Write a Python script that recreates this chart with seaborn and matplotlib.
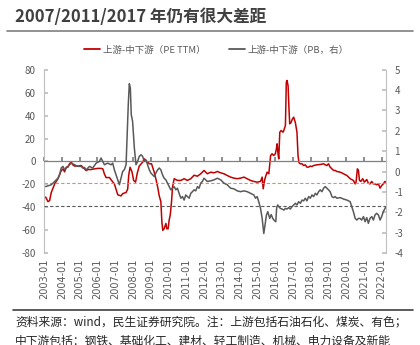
import numpy as np
import pandas as pd
import matplotlib
matplotlib.use("Agg")
import matplotlib.pyplot as plt
import seaborn as sns
from matplotlib.lines import Line2D

# ---------------- data ----------------
title = "2007/2011/2017 年仍有很大差距"
legend_labels = ["上游-中下游（PE TTM）", "上游-中下游（PB，右）"]
source_lines = ["资料来源：wind，民生证券研究院。注：上游包括石油石化、煤炭、有色；",
                "中下游包括：钢铁、基础化工、建材、轻工制造、机械、电力设备及新能"]
tick_years = list(range(2003, 2023))
tick_labels = [f"{y}-01" for y in tick_years]

# months since 2003-01 and values (left axis, PE TTM difference)
pe_month = [1.1, 2.7, 3.8, 4.9, 7.2, 9.4, 11.6, 12.8, 13.9, 15.0, 16.1, 17.2, 18.4, 19.5, 20.6, 22.9,
            25.1, 26.2, 27.3, 28.5, 29.6, 31.8, 34.1, 36.3, 38.5, 39.7, 40.8, 41.9, 44.2, 45.3, 47.5,
            48.6, 49.8, 52.0, 53.1, 55.4, 56.5, 57.2, 58.1, 59.4, 60.5, 61.8, 63.0, 64.3, 66.6, 67.7,
            68.8, 71.1, 72.6, 74.4, 75.5, 76.7, 77.8, 78.9, 79.6, 80.2, 81.1, 82.3, 82.9, 83.8, 84.5,
            85.2, 86.1, 86.8, 87.9, 89.0, 90.1, 92.4, 94.6, 96.8, 99.1, 101.3, 103.6, 105.8, 108.0,
            109.2, 110.3, 112.5, 114.8, 117.0, 119.3, 121.5, 123.7, 126.0, 128.2, 130.5, 132.7, 135.0,
            137.2, 139.4, 141.7, 143.9, 146.2, 147.3, 148.0, 148.9, 149.5, 150.6, 151.8, 153.0, 154.0,
            155.1, 156.2, 156.9, 157.4, 158.0, 158.5, 159.2, 160.1, 161.4, 161.9, 163.0, 163.6, 164.1,
            164.8, 165.4, 165.9, 166.8, 167.7, 168.6, 169.7, 170.8, 171.5, 172.2, 173.1, 174.2, 175.3,
            176.4, 177.5, 178.7, 179.8, 180.9, 182.0, 184.3, 186.5, 188.8, 189.9, 191.0, 192.1, 193.2,
            194.4, 195.5, 196.6, 197.7, 200.0, 201.1, 202.2, 204.5, 206.7, 208.9, 210.1, 210.7, 211.6,
            212.3, 213.0, 213.9, 215.2, 216.3, 217.9, 219.0, 220.1, 221.3, 222.4, 223.5, 224.6, 225.8,
            226.9, 228.0, 229.1, 230.2, 230.9]
pe_vals = [-31, -35, -34, -27, -19.5, -15, -8, -6.5, -9, -5, -5, -2, -0.6, -3, -4, -4,
           -3.5, -5, -6.4, -8, -7, -7, -6.4, -6, -6, -6.4, -11, -14, -14, -16, -19.5,
           -24, -29, -30, -28, -27, -24, -12, -5, -9, -16.5, -18, -10, -4, -0.6, 2.3,
           0.9, -2, -2, -9.3, -15, -22, -30, -35, -53, -60, -58.6, -54, -58.6, -58.6, -51,
           -47, -35, -22, -15, -15.7, -16.5, -16.5, -15, -16.5, -15, -12, -12.8, -10.7, -7.8,
           -9.3, -10.7, -9.3, -9.9, -8.7, -9.9, -10.7, -12.2, -13.6, -14.5, -15, -14.5, -13.6,
           -15, -16.5, -17.4, -18, -17.4, -13.6, -23.8, -16.5, -13.6, -9.3, -10.7, 5.2, 6.7,
           5.2, 6.7, 11, 15.4, 6.7, 2.3, 25.5, 27, 25.5, 27, 31.4, 69, 70.6,
           66, 46, 32.8, 34, 37, 38.6, 34, 25.5, 5.2, -1.2, -2, -2, -3.5,
           -2.9, -4.9, -4.9, -4, -4.4, -3.5, -2.9, -2.6, -2, -2.9, -3.5, -2, -4.9,
           -6.4, -7.8, -7.8, -8.7, -9.3, -9.9, -10.7, -12.2, -15, -16.5, -19.5, -18, -6.4,
           -7.8, -16.5, -17.4, -15, -18, -15.7, -18.9, -19.5, -17.4, -19.5, -19.5, -20.3, -19.5,
           -23.2, -20.9, -19.5, -17.4, -18]

# months since 2003-01 and values (right axis, PB difference)
pb_month = [1.1, 2.7, 4.9, 6.0, 7.2, 9.4, 10.5, 11.6, 12.8, 13.9, 15.0, 16.1, 17.2, 18.4, 20.6, 22.9,
            25.1, 26.2, 27.3, 28.5, 30.7, 32.9, 35.2, 37.4, 38.5, 39.7, 40.8, 43.0, 45.3, 46.4, 47.5,
            48.6, 49.8, 50.9, 52.0, 53.1, 54.2, 55.4, 56.0, 56.9, 57.6, 58.3, 58.9, 59.8, 61.0, 62.1,
            63.2, 64.3, 65.5, 66.6, 67.7, 68.8, 69.9, 71.1, 72.2, 73.3, 74.4, 75.5, 76.7, 77.8, 78.9,
            80.0, 81.1, 82.3, 83.4, 84.5, 85.6, 86.8, 87.9, 89.0, 90.1, 91.2, 92.4, 93.5, 94.6, 95.7,
            96.8, 98.0, 99.1, 100.2, 101.3, 102.4, 103.6, 104.7, 105.8, 106.9, 108.0, 109.2, 110.3,
            112.5, 114.8, 117.0, 119.3, 121.5, 123.7, 126.0, 128.2, 130.5, 132.7, 135.0, 137.2, 139.4,
            141.7, 142.8, 143.9, 145.0, 146.2, 147.3, 148.4, 149.5, 150.2, 151.1, 152.4, 153.4, 154.5,
            155.6, 156.5, 157.1, 157.8, 158.5, 159.6, 160.7, 161.9, 163.0, 164.1, 165.2, 166.3, 167.5,
            168.6, 169.7, 170.8, 171.9, 173.1, 174.2, 175.3, 176.4, 177.5, 178.7, 179.8, 180.9, 182.0,
            183.2, 184.3, 185.4, 186.5, 187.6, 188.8, 189.9, 191.0, 192.1, 193.2, 194.4, 195.5, 196.6,
            197.7, 200.0, 202.2, 204.5, 206.7, 207.8, 208.9, 210.1, 211.2, 212.3, 213.4, 214.5, 215.7,
            216.8, 217.9, 219.0, 220.1, 221.3, 222.4, 223.5, 224.6, 225.8, 226.9, 228.0, 229.1, 230.2,
            230.9]
pb_vals = [-0.73, -0.69, -0.64, -0.56, -0.48, -0.32, -0.15, 0.18, 0.26, 0.09, 0.18, 0.26, 0.34, 0.42, 0.34, 0.26,
           0.26, 0.18, 0.21, 0.09, 0.26, 0.18, 0.42, 0.5, 0.67, 0.5, 0.34, 0.42, 0.34, 0.42, 0.09,
           -0.15, -0.4, -0.64, -0.32, 0.01, 0.09, 0.34, 1.49, 3.3, 4.31, 4.1, 2.8, 2.47, 1.16, 0.34,
           0.5, 0.75, 0.83, 0.75, 0.5, 0.58, 0.34, 0.09, -0.07, -0.15, -0.24, -0.07, 0.09, 0.18, 0.09,
           -0.15, -0.32, -0.4, -0.56, -0.73, -0.89, -0.81, -0.73, -0.89, -0.81, -1.06, -1.3, -1.22, -1.39, -1.14,
           -1.22, -1.3, -1.06, -0.98, -0.89, -0.94, -0.73, -0.81, -0.56, -0.48, -0.32, -0.4, -0.48,
           -0.45, -0.4, -0.32, -0.4, -0.56, -0.64, -0.81, -0.84, -0.94, -0.98, -0.94, -0.98, -1.06,
           -1.14, -1.3, -1.22, -1.47, -1.8, -2.29, -3.03, -2.45, -2.12, -1.96, -2.29, -2.1, -2.3,
           -2.4, -2.45, -1.75, -1.63, -1.71, -1.8, -1.83, -1.88, -1.8, -1.83, -1.76, -1.83, -1.71,
           -1.63, -1.55, -1.63, -1.47, -1.55, -1.39, -1.43, -1.3, -1.43, -1.22, -1.3, -1.14, -1.22,
           -1.06, -1.14, -0.98, -0.89, -0.98, -0.81, -0.73, -0.81, -0.89, -0.98, -1.22, -1.27, -1.22,
           -1.3, -1.27, -1.34, -1.39, -1.47, -1.71, -1.96, -2.29, -2.37, -2.29, -2.29, -2.37, -2.2,
           -2.45, -2.25, -2.53, -2.29, -2.2, -2.37, -2.12, -2.04, -2.12, -2.37, -2.2, -1.96, -1.8,
           -1.71]

pe_mean = -18.5   # red dashed reference (left axis)
pb_mean = -1.66   # gray dashed reference (right axis)

left_ticks = list(range(-80, 81, 20))
right_ticks = list(range(-4, 6))

# ---------------- style ----------------
RED = "#C00000"
GRAY = "#595959"
sns.set_theme(style="white")
plt.rcParams["font.family"] = ["Noto Sans CJK SC", "DejaVu Sans"]
plt.rcParams["axes.unicode_minus"] = False

pe_df = pd.DataFrame({"x": 2003 + np.array(pe_month) / 12, "y": pe_vals})
pb_df = pd.DataFrame({"x": 2003 + np.array(pb_month) / 12, "y": pb_vals})

fig = plt.figure(figsize=(4.2, 3.45), dpi=100)
ax = fig.add_axes([0.1048, 0.2658, 0.8142, 0.5322])
ax2 = ax.twinx()

sns.lineplot(data=pe_df, x="x", y="y", ax=ax, color=RED, lw=1.1, sort=False, estimator=None)
sns.lineplot(data=pb_df, x="x", y="y", ax=ax2, color=GRAY, lw=1.1, sort=False, estimator=None)
ax.axhline(pe_mean, color="#F08080", lw=0.8, ls=(0, (3, 2)))
ax2.axhline(pb_mean, color="#595959", lw=0.8, ls=(0, (3, 2)))

xmin = np.floor(min(pe_df.x.min(), pb_df.x.min()))
xmax = max(pe_df.x.max(), pb_df.x.max())
ax.set_xlim(xmin, xmax)
ax.set_ylim(-80, 80)
ax2.set_ylim(-4, 5)
ax.set_yticks(left_ticks)
ax2.set_yticks(right_ticks)
ax.set_xlabel("")
ax.set_ylabel("")
ax2.set_xlabel("")
ax2.set_ylabel("")

# bottom spine at zero
ax.spines["bottom"].set_position(("data", 0))
ax.spines["bottom"].set_color("#808080")
ax.spines["bottom"].set_linewidth(0.9)
ax.spines["top"].set_visible(False)
ax.spines["right"].set_visible(False)
ax.spines["left"].set_color("#BFBFBF")
ax.spines["left"].set_linewidth(0.8)
for s in ["top", "bottom", "left"]:
    ax2.spines[s].set_visible(False)
ax2.spines["right"].set_color("#BFBFBF")
ax2.spines["right"].set_linewidth(0.8)

ax.set_xticks(tick_years)
ax.tick_params(axis="x", direction="in", length=3, color="#808080", labelbottom=False, bottom=True)
ax.tick_params(axis="y", direction="in", length=3, color="#BFBFBF", left=True,
               labelsize=7, labelcolor=GRAY, pad=6)
ax2.tick_params(axis="y", direction="in", length=3, color="#BFBFBF", right=True,
                labelsize=7, labelcolor=GRAY, pad=6)

sec = ax.secondary_xaxis(0)
sec.set_xticks(tick_years)
sec.set_xticklabels(tick_labels, rotation=90, fontsize=7, color=GRAY,
                    family=["DejaVu Sans"])
sec.tick_params(length=0, pad=3.5)
for s in sec.spines.values():
    s.set_visible(False)

# legend
handles = [Line2D([], [], color=RED, lw=1.3), Line2D([], [], color=GRAY, lw=1.3)]
fig.legend(handles, legend_labels, loc="center", bbox_to_anchor=(0.515, 1 - 50 / 345),
           ncol=2, frameon=False, fontsize=6.8, labelcolor=GRAY, handlelength=1.7,
           handletextpad=0.3, columnspacing=2.5)

# title and rules
fig.text(15 / 420, 1 - 17 / 345, title, fontsize=12, fontweight="bold", color="#404040",
         ha="left", va="center")
fig.add_artist(Line2D([7 / 420, 413 / 420], [1 - 31 / 345] * 2, color="#7F7F7F", lw=1.2,
                      transform=fig.transFigure))
fig.add_artist(Line2D([13 / 420, 413 / 420], [1 - 309.5 / 345] * 2, color="#404040", lw=1.2,
                      transform=fig.transFigure))
fig.text(15 / 420, 1 - 322 / 345, source_lines[0], fontsize=8.5, color="#262626",
         ha="left", va="center")
fig.text(15 / 420, 1 - 341 / 345, source_lines[1], fontsize=8.5, color="#262626",
         ha="left", va="center")

fig.savefig("out.png", dpi=100)
